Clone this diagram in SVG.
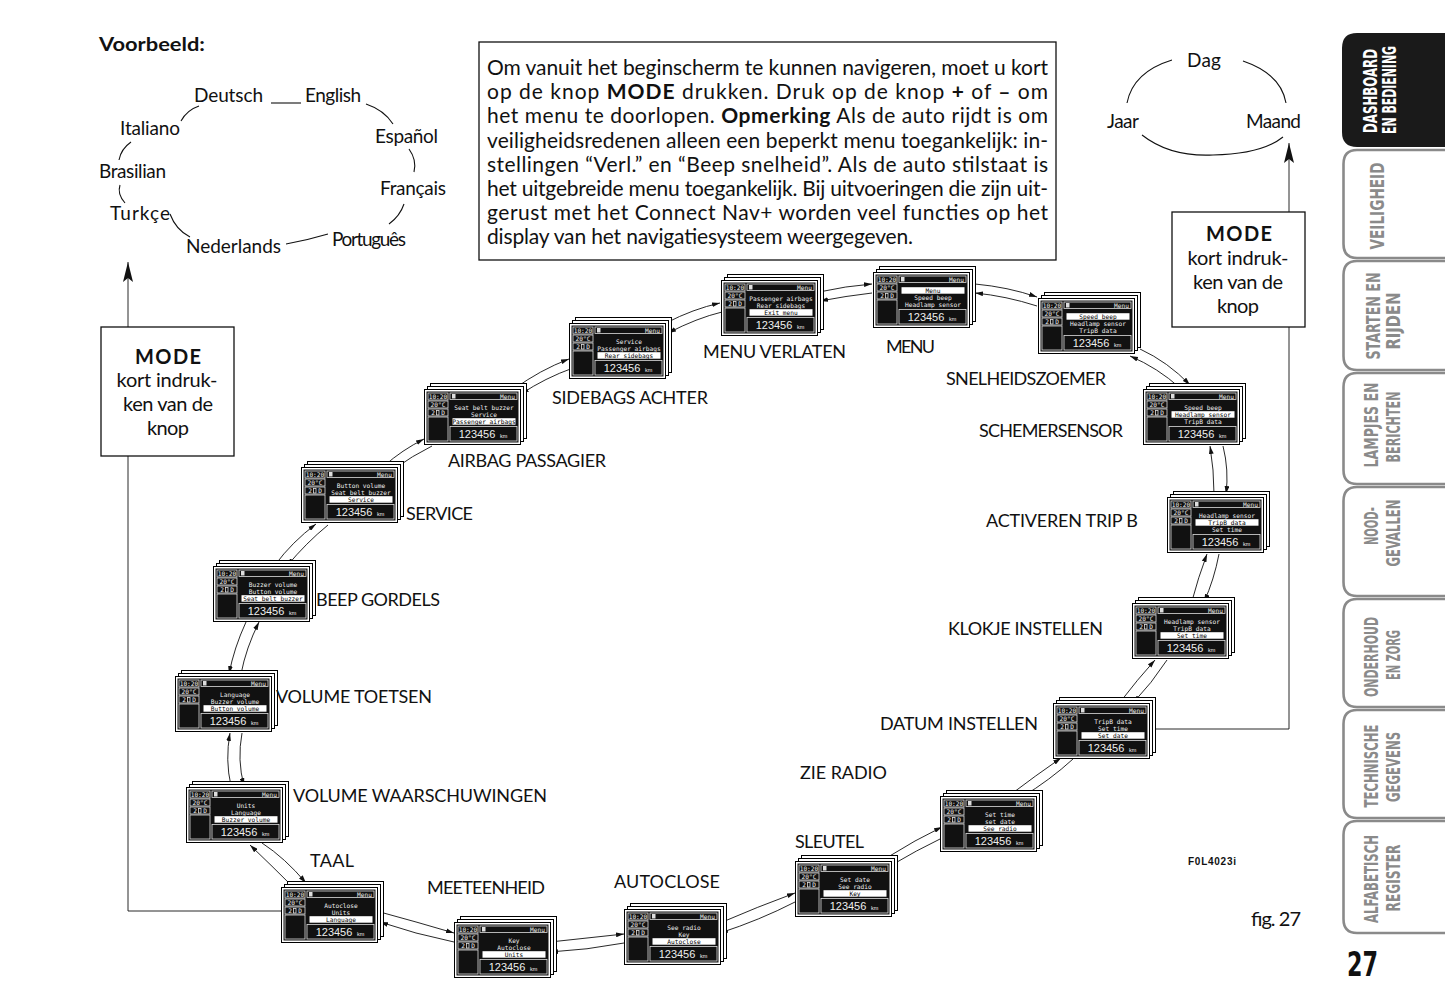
<svg xmlns="http://www.w3.org/2000/svg" xmlns:xlink="http://www.w3.org/1999/xlink" width="1445" height="997" viewBox="0 0 1445 997">
<style>
.t{font-family:Lato,"Open Sans","Liberation Sans",sans-serif;fill:#111}
.lbl{font-family:Lato,"Open Sans","Liberation Sans",sans-serif;font-size:18px;fill:#111}
.lang{font-family:Lato,"Open Sans","Liberation Sans",sans-serif;font-size:19px;fill:#111}
.box{font-family:Lato,"Open Sans","Liberation Sans",sans-serif;font-size:20px;fill:#111;text-anchor:middle}
.mono{font-family:"DejaVu Sans Mono","Liberation Mono",monospace;font-size:6.2px;fill:#eee}
.ln{font-family:"DejaVu Sans Mono","Liberation Mono",monospace;font-size:6.2px;fill:#eee;text-anchor:middle}
.lnh{font-family:"DejaVu Sans Mono","Liberation Mono",monospace;font-size:6.2px;fill:#000;text-anchor:middle}
.hl{fill:#fff}
.bf{fill:#fff;stroke:#000;stroke-width:1}
.cell{fill:none;stroke:#ddd;stroke-width:0.8}
.con{fill:none;stroke:#111;stroke-width:0.9}
.arc{fill:none;stroke:#111;stroke-width:1.1}
.tab{fill:none;stroke:#8a8a8a;stroke-width:2.6}
.tabt{font-family:"DejaVu Sans Condensed","Liberation Sans Narrow","Liberation Sans",sans-serif;font-weight:bold;font-size:20px;fill:#8a8a8a;text-anchor:middle}
</style>
<defs>
<marker id="ah" viewBox="0 0 10 6" refX="10" refY="3" markerWidth="8" markerHeight="5" markerUnits="userSpaceOnUse" orient="auto"><path d="M0,0 L10,3 L0,6 z" fill="#111"/></marker>
<marker id="big" viewBox="0 0 20 10" refX="20" refY="5" markerWidth="20" markerHeight="10" markerUnits="userSpaceOnUse" orient="auto"><path d="M0,0 L20,5 L0,10 L4,5 z" fill="#111"/></marker>
<g id="scr">
<rect x="6.5" y="-5.5" width="96" height="55" class="bf"/>
<rect x="3.5" y="-2.5" width="96" height="55" class="bf"/>
<rect x="0.5" y="0.5" width="96" height="55" fill="#fff" stroke="#000"/>
<rect x="2.5" y="2.5" width="92" height="51" fill="#111"/>
<rect x="4" y="4" width="20" height="7" class="cell"/>
<rect x="4" y="12" width="20" height="7" class="cell"/>
<rect x="4" y="20" width="20" height="7" class="cell"/>
<rect x="4" y="28" width="20" height="24" class="cell"/>
<rect x="26" y="4" width="67" height="6.5" class="cell"/>
<rect x="26" y="37.5" width="67" height="14.5" class="cell"/>
<text x="14" y="9.6" class="mono" text-anchor="middle">10:20</text>
<text x="14" y="17.6" class="mono" text-anchor="middle">20°C</text>
<text x="9" y="25.6" class="mono" text-anchor="middle">2</text>
<rect x="12.5" y="21.5" width="2.5" height="4.5" class="cell"/>
<text x="19" y="25.6" class="mono" text-anchor="middle">D</text>
<rect x="28" y="5" width="3.5" height="4.5" fill="#ddd"/>
<text x="91" y="9.5" class="mono" text-anchor="end">Menu</text>
<text x="53" y="49" font-family="'Liberation Sans',sans-serif" font-size="11" fill="#eee" text-anchor="middle">123456</text>
<text x="76" y="49" font-family="'Liberation Sans',sans-serif" font-size="5.5" fill="#eee">km</text>
</g>
</defs>
<rect width="1445" height="997" fill="#fff"/>

<!-- side tabs -->
<g id="tabs">
<path d="M1445,33 H1357 Q1342,33 1342,48 V132 Q1342,147 1357,147 H1445 z" fill="#1a1a1a"/>
<text class="tabt" style="fill:#fff" transform="translate(1377,91) rotate(-90)" textLength="84" lengthAdjust="spacingAndGlyphs">DASHBOARD</text>
<text class="tabt" style="fill:#fff" transform="translate(1396,90) rotate(-90)" textLength="88" lengthAdjust="spacingAndGlyphs">EN BEDIENING</text>
<path class="tab" d="M1445,150 H1357 Q1343.5,150 1343.5,164 V244 Q1343.5,258 1357,258 H1445"/>
<text class="tabt" transform="translate(1384,206) rotate(-90)" textLength="87" lengthAdjust="spacingAndGlyphs">VEILIGHEID</text>
<path class="tab" d="M1445,261 H1357 Q1343.5,261 1343.5,275 V356 Q1343.5,370 1357,370 H1445"/>
<text class="tabt" transform="translate(1380,316) rotate(-90)" textLength="87" lengthAdjust="spacingAndGlyphs">STARTEN EN</text>
<text class="tabt" transform="translate(1400,321) rotate(-90)" textLength="57" lengthAdjust="spacingAndGlyphs">RIJDEN</text>
<path class="tab" d="M1445,373 H1357 Q1343.5,373 1343.5,387 V470 Q1343.5,484 1357,484 H1445"/>
<text class="tabt" transform="translate(1378,425) rotate(-90)" textLength="85" lengthAdjust="spacingAndGlyphs">LAMPJES EN</text>
<text class="tabt" transform="translate(1400,427) rotate(-90)" textLength="71" lengthAdjust="spacingAndGlyphs">BERICHTEN</text>
<path class="tab" d="M1445,487 H1357 Q1343.5,487 1343.5,501 V582 Q1343.5,596 1357,596 H1445"/>
<text class="tabt" transform="translate(1378,526) rotate(-90)" textLength="38" lengthAdjust="spacingAndGlyphs">NOOD-</text>
<text class="tabt" transform="translate(1400,533) rotate(-90)" textLength="67" lengthAdjust="spacingAndGlyphs">GEVALLEN</text>
<path class="tab" d="M1445,599 H1357 Q1343.5,599 1343.5,613 V693 Q1343.5,707 1357,707 H1445"/>
<text class="tabt" transform="translate(1378,657) rotate(-90)" textLength="80" lengthAdjust="spacingAndGlyphs">ONDERHOUD</text>
<text class="tabt" transform="translate(1400,655) rotate(-90)" textLength="50" lengthAdjust="spacingAndGlyphs">EN ZORG</text>
<path class="tab" d="M1445,710 H1357 Q1343.5,710 1343.5,724 V804 Q1343.5,818 1357,818 H1445"/>
<text class="tabt" transform="translate(1378,766) rotate(-90)" textLength="83" lengthAdjust="spacingAndGlyphs">TECHNISCHE</text>
<text class="tabt" transform="translate(1400,767) rotate(-90)" textLength="70" lengthAdjust="spacingAndGlyphs">GEGEVENS</text>
<path class="tab" d="M1445,821 H1357 Q1343.5,821 1343.5,835 V919 Q1343.5,933 1357,933 H1445"/>
<text class="tabt" transform="translate(1378,879) rotate(-90)" textLength="88" lengthAdjust="spacingAndGlyphs">ALFABETISCH</text>
<text class="tabt" transform="translate(1400,878) rotate(-90)" textLength="67" lengthAdjust="spacingAndGlyphs">REGISTER</text>
</g>
<text x="1347" y="976" font-family="'DejaVu Sans Condensed','Liberation Sans Narrow',sans-serif" font-weight="bold" font-size="34" fill="#111" textLength="31" lengthAdjust="spacingAndGlyphs">27</text>

<!-- header text -->
<text x="99" y="51" class="t" font-size="19" font-weight="bold" textLength="106" lengthAdjust="spacingAndGlyphs">Voorbeeld:</text>

<g id="intro">
<rect x="479" y="42" width="577" height="218" fill="#fff" stroke="#111" stroke-width="1.3"/>
<g class="t" font-size="21">
<text x="487" y="75" textLength="561">Om vanuit het beginscherm te kunnen navigeren, moet u kort</text>
<text x="487" y="99" textLength="561">op de knop <tspan font-weight="bold">MODE</tspan> drukken. Druk op de knop <tspan font-weight="bold">+</tspan> of <tspan font-weight="bold">–</tspan> om</text>
<text x="487" y="123" textLength="561">het menu te doorlopen. <tspan font-weight="bold">Opmerking</tspan> Als de auto rijdt is om</text>
<text x="487" y="148" textLength="561">veiligheidsredenen alleen een beperkt menu toegankelijk: in-</text>
<text x="487" y="172" textLength="561">stellingen “Verl.” en “Beep snelheid”. Als de auto stilstaat is</text>
<text x="487" y="196" textLength="561">het uitgebreide menu toegankelijk. Bij uitvoeringen die zijn uit-</text>
<text x="487" y="220" textLength="561">gerust met het Connect Nav+ worden veel functies op het</text>
<text x="487" y="244" textLength="426">display van het navigatiesysteem weergegeven.</text>
</g>
</g>

<!-- language cycle -->
<g id="languages">
<text class="lang" x="194" y="102" textLength="69">Deutsch</text>
<text class="lang" x="305" y="102" textLength="56">English</text>
<text class="lang" x="375" y="143" textLength="63">Español</text>
<text class="lang" x="380" y="195" textLength="66">Français</text>
<text class="lang" x="332" y="246" textLength="74">Português</text>
<text class="lang" x="186" y="253" textLength="95">Nederlands</text>
<text class="lang" x="110" y="220" textLength="60">Turkçe</text>
<text class="lang" x="99" y="178" textLength="67">Brasilian</text>
<text class="lang" x="120" y="135" textLength="60">Italiano</text>
<path class="arc" d="M271,103 H301"/>
<path class="arc" d="M366,104 Q384,110 393,124"/>
<path class="arc" d="M409,149 Q417,160 414,172"/>
<path class="arc" d="M404,204 Q400,216 389,224"/>
<path class="arc" d="M286,244 Q308,240 328,234"/>
<path class="arc" d="M170,214 Q176,230 190,237"/>
<path class="arc" d="M125,203 Q117,194 120,185"/>
<path class="arc" d="M119,160 Q121,149 131,142"/>
<path class="arc" d="M181,121 Q187,110 199,106"/>
</g>

<!-- date cycle -->
<g id="dates">
<text class="lang" x="1187" y="67" textLength="34">Dag</text>
<text class="lang" x="1107" y="128" textLength="32">Jaar</text>
<text class="lang" x="1246" y="128" textLength="55">Maand</text>
<path class="arc" d="M1172,60 Q1133,72 1127,103"/>
<path class="arc" d="M1243,61 Q1281,74 1286,103"/>
<path class="arc" d="M1142,135 Q1170,157 1213,155 Q1262,154 1283,137"/>
</g>

<!-- MODE boxes -->
<g id="mode-left">
<rect x="101" y="327" width="133" height="129" fill="#fff" stroke="#111" stroke-width="1.3"/>
<text class="box" x="168" y="364" font-weight="bold" textLength="66">MODE</text>
<text class="box" x="167" y="387" textLength="101">kort indruk-</text>
<text class="box" x="168" y="411" textLength="90">ken van de</text>
<text class="box" x="168" y="435" textLength="42">knop</text>
</g>
<g id="mode-right">
<rect x="1172" y="212" width="133" height="115" fill="#fff" stroke="#111" stroke-width="1.3"/>
<text class="box" x="1239" y="241" font-weight="bold" textLength="66">MODE</text>
<text class="box" x="1238" y="265" textLength="101">kort indruk-</text>
<text class="box" x="1238" y="289" textLength="90">ken van de</text>
<text class="box" x="1238" y="313" textLength="42">knop</text>
</g>

<!-- connectors -->
<g id="connectors">
<path class="con" d="M281,911 H128 V456"/>
<path class="con" d="M128,327 V262" marker-end="url(#big)"/>
<path class="con" d="M1150,729 H1289 V327"/>
<path class="con" d="M1289,212 V143" marker-end="url(#big)"/>

<path class="con" d="M666,323 Q693,309 720,303" marker-end="url(#ah)"/>
<path class="con" d="M722,312 Q697,318 668,333" marker-end="url(#ah)"/>
<path class="con" d="M819,292 Q846,286 872,284" marker-end="url(#ah)"/>
<path class="con" d="M872,293 Q846,296 820,301" marker-end="url(#ah)"/>
<path class="con" d="M975,284 Q1008,287 1037,297" marker-end="url(#ah)"/>
<path class="con" d="M1037,306 Q1006,296 975,293" marker-end="url(#ah)"/>
<path class="con" d="M1140,349 Q1168,362 1190,385" marker-end="url(#ah)"/>
<path class="con" d="M1180,388 Q1158,368 1130,356" marker-end="url(#ah)"/>
<path class="con" d="M1223,446 Q1229,470 1226,494" marker-end="url(#ah)"/>
<path class="con" d="M1214,494 Q1214,470 1210,446" marker-end="url(#ah)"/>
<path class="con" d="M1219,554 Q1214,580 1204,602" marker-end="url(#ah)"/>
<path class="con" d="M1192,601 Q1198,578 1207,554" marker-end="url(#ah)"/>
<path class="con" d="M1167,660 Q1152,683 1133,703" marker-end="url(#ah)"/>
<path class="con" d="M1121,701 Q1137,680 1155,660" marker-end="url(#ah)"/>
<path class="con" d="M1073,759 Q1050,780 1022,797" marker-end="url(#ah)"/>
<path class="con" d="M1010,795 Q1035,776 1061,758" marker-end="url(#ah)"/>
<path class="con" d="M942,838 Q917,850 890,866" marker-end="url(#ah)"/>
<path class="con" d="M888,857 Q915,840 942,827" marker-end="url(#ah)"/>
<path class="con" d="M795,902 Q760,920 720,933" marker-end="url(#ah)"/>
<path class="con" d="M720,923 Q757,907 795,893" marker-end="url(#ah)"/>
<path class="con" d="M624,943 Q587,950 550,952" marker-end="url(#ah)"/>
<path class="con" d="M550,942 Q587,938 624,934" marker-end="url(#ah)"/>
<path class="con" d="M454,942 Q415,934 380,922" marker-end="url(#ah)"/>
<path class="con" d="M380,912 Q417,922 454,933" marker-end="url(#ah)"/>
<path class="con" d="M262,843 Q285,858 306,883" marker-end="url(#ah)"/>
<path class="con" d="M294,888 Q272,866 250,845" marker-end="url(#ah)"/>
<path class="con" d="M242,733 Q237,760 244,786" marker-end="url(#ah)"/>
<path class="con" d="M231,786 Q225,760 230,733" marker-end="url(#ah)"/>
<path class="con" d="M241,674 Q246,648 259,622" marker-end="url(#ah)"/>
<path class="con" d="M246,622 Q234,648 229,674" marker-end="url(#ah)"/>
<path class="con" d="M275,565 Q292,542 316,524" marker-end="url(#ah)"/>
<path class="con" d="M328,525 Q306,543 287,566" marker-end="url(#ah)"/>
<path class="con" d="M384,466 Q402,450 424,439" marker-end="url(#ah)"/>
<path class="con" d="M432,446 Q412,456 394,469" marker-end="url(#ah)"/>
<path class="con" d="M514,389 Q540,370 569,359" marker-end="url(#ah)"/>
<path class="con" d="M573,368 Q545,378 521,394" marker-end="url(#ah)"/>
</g>

<!-- screens -->
<g id="s-menu-verlaten" transform="translate(721,280)"><use href="#scr"/>
<rect class="hl" x="28.5" y="29.2" width="63" height="6.5"/>
<text class="ln" x="60" y="20.5">Passenger airbags</text><text class="ln" x="60" y="27.5">Rear sidebags</text><text class="lnh" x="60" y="34.5">Exit menu</text></g>
<text class="lbl" x="703" y="358" textLength="143">MENU VERLATEN</text>

<g id="s-menu" transform="translate(873,272)"><use href="#scr"/>
<rect class="hl" x="28.5" y="15.2" width="63" height="6.5"/>
<text class="lnh" x="60" y="20.5">Menu</text><text class="ln" x="60" y="27.5">Speed beep</text><text class="ln" x="60" y="34.5">Headlamp sensor</text></g>
<text class="lbl" x="886" y="353" textLength="49">MENU</text>

<g id="s-snelheidszoemer" transform="translate(1038,298)"><use href="#scr"/>
<rect class="hl" x="28.5" y="15.2" width="63" height="6.5"/>
<text class="lnh" x="60" y="20.5">Speed beep</text><text class="ln" x="60" y="27.5">Headlamp sensor</text><text class="ln" x="60" y="34.5">TripB data</text></g>
<text class="lbl" x="946" y="385" textLength="160">SNELHEIDSZOEMER</text>

<g id="s-schemersensor" transform="translate(1143,389)"><use href="#scr"/>
<rect class="hl" x="28.5" y="22.2" width="63" height="6.5"/>
<text class="ln" x="60" y="20.5">Speed beep</text><text class="lnh" x="60" y="27.5">Headlamp sensor</text><text class="ln" x="60" y="34.5">TripB data</text></g>
<text class="lbl" x="979" y="437" textLength="144">SCHEMERSENSOR</text>

<g id="s-tripb" transform="translate(1167,497)"><use href="#scr"/>
<rect class="hl" x="28.5" y="22.2" width="63" height="6.5"/>
<text class="ln" x="60" y="20.5">Headlamp sensor</text><text class="lnh" x="60" y="27.5">TripB data</text><text class="ln" x="60" y="34.5">Set time</text></g>
<text class="lbl" x="986" y="527" textLength="152">ACTIVEREN TRIP B</text>

<g id="s-klokje" transform="translate(1132,603)"><use href="#scr"/>
<rect class="hl" x="28.5" y="29.2" width="63" height="6.5"/>
<text class="ln" x="60" y="20.5">Headlamp sensor</text><text class="ln" x="60" y="27.5">TripB data</text><text class="lnh" x="60" y="34.5">Set time</text></g>
<text class="lbl" x="948" y="635" textLength="155">KLOKJE INSTELLEN</text>

<g id="s-datum" transform="translate(1053,703)"><use href="#scr"/>
<rect class="hl" x="28.5" y="29.2" width="63" height="6.5"/>
<text class="ln" x="60" y="20.5">TripB data</text><text class="ln" x="60" y="27.5">Set time</text><text class="lnh" x="60" y="34.5">Set date</text></g>
<text class="lbl" x="880" y="730" textLength="158">DATUM INSTELLEN</text>

<g id="s-radio" transform="translate(940,796)"><use href="#scr"/>
<rect class="hl" x="28.5" y="29.2" width="63" height="6.5"/>
<text class="ln" x="60" y="20.5">Set time</text><text class="ln" x="60" y="27.5">set date</text><text class="lnh" x="60" y="34.5">See radio</text></g>
<text class="lbl" x="800" y="779" textLength="87">ZIE RADIO</text>

<g id="s-sleutel" transform="translate(795,861)"><use href="#scr"/>
<rect class="hl" x="28.5" y="29.2" width="63" height="6.5"/>
<text class="ln" x="60" y="20.5">Set date</text><text class="ln" x="60" y="27.5">See radio</text><text class="lnh" x="60" y="34.5">Key</text></g>
<text class="lbl" x="795" y="848" textLength="69">SLEUTEL</text>

<g id="s-autoclose" transform="translate(624,909)"><use href="#scr"/>
<rect class="hl" x="28.5" y="29.2" width="63" height="6.5"/>
<text class="ln" x="60" y="20.5">See radio</text><text class="ln" x="60" y="27.5">Key</text><text class="lnh" x="60" y="34.5">Autoclose</text></g>
<text class="lbl" x="614" y="888" textLength="106">AUTOCLOSE</text>

<g id="s-meeteenheid" transform="translate(454,922)"><use href="#scr"/>
<rect class="hl" x="28.5" y="29.2" width="63" height="6.5"/>
<text class="ln" x="60" y="20.5">Key</text><text class="ln" x="60" y="27.5">Autoclose</text><text class="lnh" x="60" y="34.5">Units</text></g>
<text class="lbl" x="427" y="894" textLength="118">MEETEENHEID</text>

<g id="s-taal" transform="translate(281,887)"><use href="#scr"/>
<rect class="hl" x="28.5" y="29.2" width="63" height="6.5"/>
<text class="ln" x="60" y="20.5">Autoclose</text><text class="ln" x="60" y="27.5">Units</text><text class="lnh" x="60" y="34.5">Language</text></g>
<text class="lbl" x="310" y="867" textLength="44">TAAL</text>

<g id="s-volume-waarschuwingen" transform="translate(186,787)"><use href="#scr"/>
<rect class="hl" x="28.5" y="29.2" width="63" height="6.5"/>
<text class="ln" x="60" y="20.5">Units</text><text class="ln" x="60" y="27.5">Language</text><text class="lnh" x="60" y="34.5">Buzzer volume</text></g>
<text class="lbl" x="293" y="802" textLength="254">VOLUME WAARSCHUWINGEN</text>

<g id="s-volume-toetsen" transform="translate(175,676)"><use href="#scr"/>
<rect class="hl" x="28.5" y="29.2" width="63" height="6.5"/>
<text class="ln" x="60" y="20.5">Language</text><text class="ln" x="60" y="27.5">Buzzer volume</text><text class="lnh" x="60" y="34.5">Button volume</text></g>
<text class="lbl" x="276" y="703" textLength="156">VOLUME TOETSEN</text>

<g id="s-beep-gordels" transform="translate(213,566)"><use href="#scr"/>
<rect class="hl" x="28.5" y="29.2" width="63" height="6.5"/>
<text class="ln" x="60" y="20.5">Buzzer volume</text><text class="ln" x="60" y="27.5">Button volume</text><text class="lnh" x="60" y="34.5">Seat belt buzzer</text></g>
<text class="lbl" x="316" y="606" textLength="124">BEEP GORDELS</text>

<g id="s-service" transform="translate(301,467)"><use href="#scr"/>
<rect class="hl" x="28.5" y="29.2" width="63" height="6.5"/>
<text class="ln" x="60" y="20.5">Button volume</text><text class="ln" x="60" y="27.5">Seat belt buzzer</text><text class="lnh" x="60" y="34.5">Service</text></g>
<text class="lbl" x="406" y="520" textLength="67">SERVICE</text>

<g id="s-airbag" transform="translate(424,389)"><use href="#scr"/>
<rect class="hl" x="28.5" y="29.2" width="63" height="6.5"/>
<text class="ln" x="60" y="20.5">Seat belt buzzer</text><text class="ln" x="60" y="27.5">Service</text><text class="lnh" x="60" y="34.5">Passenger airbags</text></g>
<text class="lbl" x="448" y="467" textLength="158">AIRBAG PASSAGIER</text>

<g id="s-sidebags" transform="translate(569,323)"><use href="#scr"/>
<rect class="hl" x="28.5" y="29.2" width="63" height="6.5"/>
<text class="ln" x="60" y="20.5">Service</text><text class="ln" x="60" y="27.5">Passenger airbags</text><text class="lnh" x="60" y="34.5">Rear sidebags</text></g>
<text class="lbl" x="552" y="404" textLength="156">SIDEBAGS ACHTER</text>

<text x="1188" y="865" font-family="'Liberation Sans',sans-serif" font-weight="bold" font-size="10" fill="#111" textLength="48">F0L4023i</text>
<text x="1250" y="926" class="t" font-size="20" textLength="50">fig. 27</text>
</svg>
